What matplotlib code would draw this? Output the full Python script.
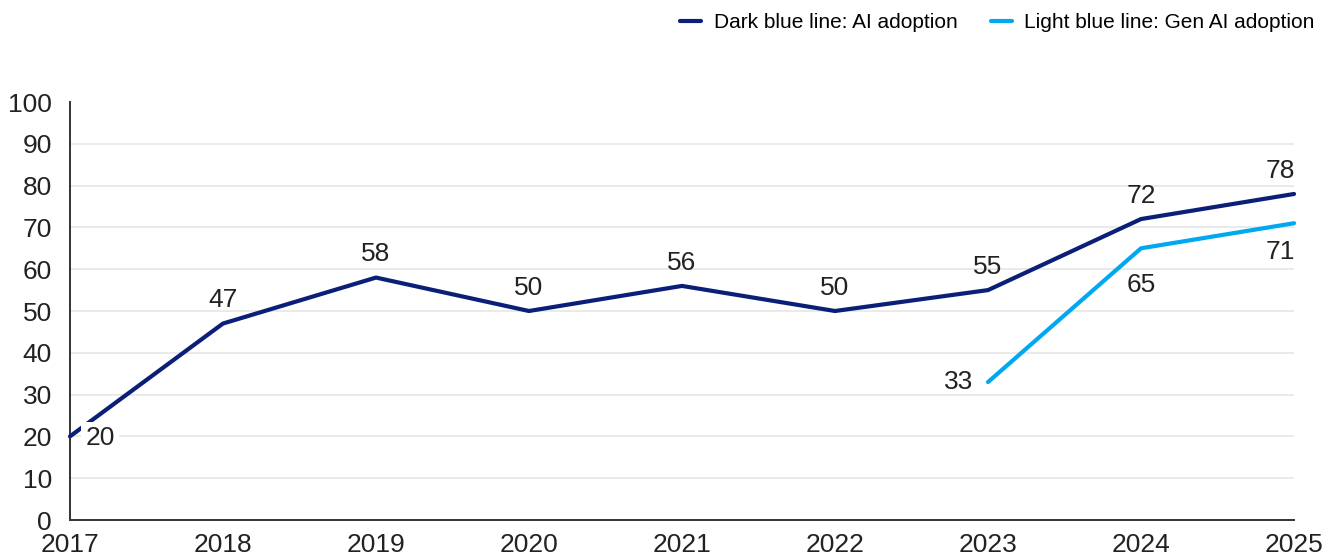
import matplotlib
matplotlib.use("Agg")
import matplotlib.pyplot as plt

# data
years = [2017, 2018, 2019, 2020, 2021, 2022, 2023, 2024, 2025]
ai_adoption = [20, 47, 58, 50, 56, 50, 55, 72, 78]
gen_years = [2023, 2024, 2025]
gen_ai_adoption = [33, 65, 71]

dark_blue = '#0b1f78'
light_blue = '#00a8f0'

plt.rcParams['font.family'] = ['Liberation Sans', 'DejaVu Sans']

fig = plt.figure(figsize=(13.4, 5.58), dpi=100)
ax = fig.add_axes([0.0522, 0.0681, 0.9135, 0.7491])

ax.plot(years, ai_adoption, color=dark_blue, lw=3, solid_capstyle='round',
        solid_joinstyle='round', clip_on=False, zorder=3,
        label='Dark blue line: AI adoption')
ax.plot(gen_years, gen_ai_adoption, color=light_blue, lw=3, solid_capstyle='round',
        solid_joinstyle='round', clip_on=False, zorder=3,
        label='Light blue line: Gen AI adoption')

# data labels
fs = 19
for i, (x, y) in enumerate(zip(years, ai_adoption)):
    if i == 0:
        ax.annotate(str(y), (x, y), xytext=(11, -1), textcoords='offset points',
                    ha='left', va='center', fontsize=fs, color='#222222', zorder=5,
                    bbox=dict(boxstyle='square,pad=0.15', fc='white', ec='none'))
    else:
        dx = -10 if x == 2025 else 0
        ax.annotate(str(y), (x, y), xytext=(dx, 8), textcoords='offset points',
                    ha='center', va='bottom', fontsize=fs, color='#222222')

for x, y in zip(gen_years, gen_ai_adoption):
    if x == 2023:
        ax.annotate(str(y), (x, y), xytext=(-11, 0), textcoords='offset points',
                    ha='right', va='center', fontsize=fs, color='#222222')
    else:
        dx = -10 if x == 2025 else 0
        dy = -18 if x == 2024 else -12
        ax.annotate(str(y), (x, y), xytext=(dx, dy), textcoords='offset points',
                    ha='center', va='top', fontsize=fs, color='#222222')

ax.set_xlim(2017, 2025)
ax.set_ylim(0, 100)
ax.set_xticks(years)
ax.set_yticks(range(0, 101, 10))
ax.tick_params(axis='both', length=0, labelsize=fs, colors='#222222')
ax.tick_params(axis='y', pad=13)
ax.tick_params(axis='x', pad=9)

for y in range(10, 100, 10):
    ax.axhline(y, color='#e6e6e6', lw=1.2, zorder=1)

for s in ['top', 'right']:
    ax.spines[s].set_visible(False)
for s in ['left', 'bottom']:
    ax.spines[s].set_color('#333333')
    ax.spines[s].set_linewidth(1.4)

fig.legend(loc='upper right', bbox_to_anchor=(0.995, 1.01), ncol=2, frameon=False,
           fontsize=15, handlelength=1.0, handletextpad=0.6, columnspacing=1.6)

fig.savefig('out.png', dpi=100)
